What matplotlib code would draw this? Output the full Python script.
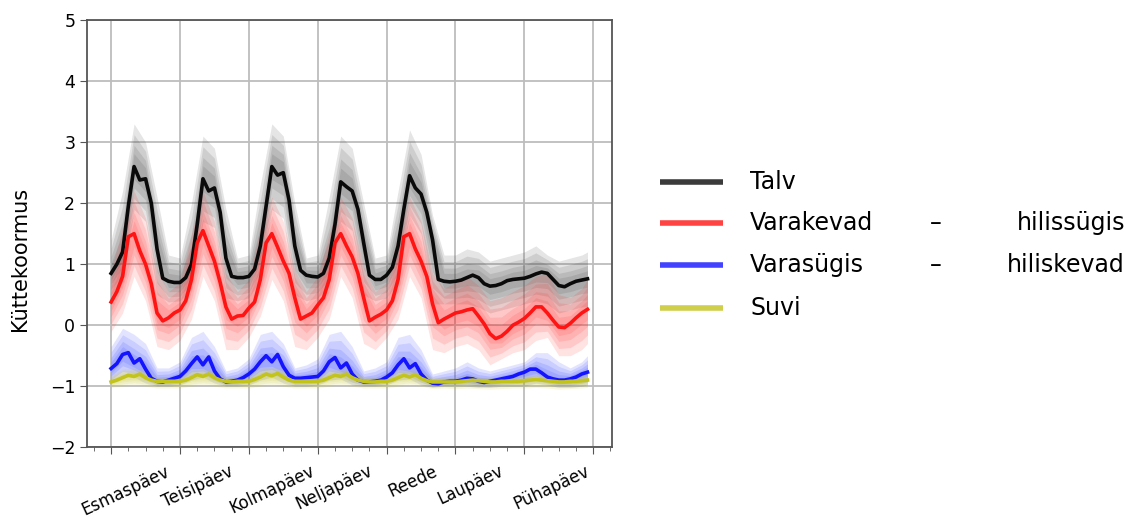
import numpy as np
import matplotlib.pyplot as plt
from matplotlib.ticker import MultipleLocator
import matplotlib.transforms as mtransforms

# hour of the week, 2 h step
hours = np.arange(0, 168, 2)
# envelope of the individual weeks, 4 h step
band_hours = np.append(np.arange(0, 168, 4), 166)

days = ['Esmaspäev', 'Teisipäev', 'Kolmapäev', 'Neljapäev', 'Reede', 'Laupäev', 'Pühapäev']
seasons = ['Talv', 'Varakevad', 'Varasügis', 'Suvi']

# mean profiles, one list per day (hours 0, 2, ..., 22)
talv = np.concatenate([
    [0.85, 1.00, 1.20, 1.95, 2.60, 2.38, 2.40, 2.00, 1.25, 0.77, 0.72, 0.70],
    [0.70, 0.78, 1.00, 1.65, 2.40, 2.20, 2.25, 1.85, 1.10, 0.80, 0.78, 0.78],
    [0.80, 0.92, 1.30, 1.95, 2.60, 2.46, 2.50, 2.05, 1.30, 0.90, 0.82, 0.80],
    [0.79, 0.85, 1.10, 1.65, 2.35, 2.27, 2.20, 1.90, 1.35, 0.82, 0.75, 0.75],
    [0.82, 0.95, 1.30, 1.90, 2.45, 2.25, 2.15, 1.85, 1.40, 0.75, 0.72, 0.71],
    [0.72, 0.74, 0.78, 0.82, 0.78, 0.68, 0.64, 0.65, 0.68, 0.73, 0.75, 0.76],
    [0.77, 0.80, 0.84, 0.87, 0.85, 0.75, 0.65, 0.63, 0.68, 0.72, 0.74, 0.76],
])
varakevad = np.concatenate([
    [0.38, 0.55, 0.80, 1.45, 1.50, 1.22, 1.00, 0.68, 0.20, 0.07, 0.12, 0.20],
    [0.25, 0.40, 0.75, 1.35, 1.55, 1.30, 1.05, 0.70, 0.30, 0.10, 0.15, 0.16],
    [0.28, 0.38, 0.75, 1.35, 1.50, 1.28, 1.05, 0.85, 0.45, 0.10, 0.15, 0.20],
    [0.33, 0.45, 0.75, 1.35, 1.50, 1.30, 1.12, 0.85, 0.45, 0.07, 0.13, 0.18],
    [0.25, 0.40, 0.75, 1.45, 1.50, 1.25, 1.05, 0.80, 0.35, 0.04, 0.10, 0.15],
    [0.20, 0.22, 0.25, 0.27, 0.15, 0.02, -0.14, -0.22, -0.18, -0.10, 0.00, 0.05],
    [0.11, 0.20, 0.30, 0.30, 0.20, 0.08, -0.03, -0.04, 0.03, 0.12, 0.20, 0.26],
])
varasygis = np.concatenate([
    [-0.71, -0.63, -0.48, -0.45, -0.62, -0.55, -0.72, -0.87, -0.92, -0.93, -0.90, -0.87],
    [-0.84, -0.75, -0.63, -0.52, -0.65, -0.52, -0.75, -0.88, -0.93, -0.92, -0.90, -0.86],
    [-0.80, -0.72, -0.60, -0.50, -0.60, -0.48, -0.68, -0.82, -0.87, -0.87, -0.86, -0.85],
    [-0.84, -0.75, -0.60, -0.53, -0.70, -0.62, -0.80, -0.90, -0.93, -0.93, -0.92, -0.90],
    [-0.85, -0.78, -0.65, -0.55, -0.70, -0.63, -0.80, -0.90, -0.95, -0.96, -0.93, -0.92],
    [-0.92, -0.90, -0.87, -0.88, -0.92, -0.94, -0.92, -0.90, -0.88, -0.86, -0.84, -0.80],
    [-0.77, -0.72, -0.72, -0.78, -0.85, -0.88, -0.90, -0.90, -0.88, -0.85, -0.80, -0.77],
])
suvi = np.concatenate([
    [-0.93, -0.90, -0.86, -0.82, -0.84, -0.80, -0.86, -0.90, -0.92, -0.92, -0.92, -0.92],
    [-0.92, -0.90, -0.86, -0.81, -0.84, -0.80, -0.86, -0.90, -0.92, -0.93, -0.92, -0.92],
    [-0.92, -0.89, -0.85, -0.80, -0.83, -0.79, -0.85, -0.90, -0.92, -0.92, -0.92, -0.92],
    [-0.92, -0.90, -0.86, -0.82, -0.84, -0.80, -0.86, -0.90, -0.92, -0.93, -0.93, -0.92],
    [-0.92, -0.90, -0.86, -0.82, -0.85, -0.81, -0.87, -0.91, -0.93, -0.93, -0.93, -0.93],
    [-0.93, -0.92, -0.91, -0.90, -0.91, -0.92, -0.93, -0.93, -0.92, -0.92, -0.92, -0.92],
    [-0.91, -0.90, -0.89, -0.90, -0.91, -0.92, -0.93, -0.93, -0.92, -0.92, -0.91, -0.90],
])

# spread of the single weeks (hours 0, 4, ..., 20; Sunday also 22)
talv_hi = np.concatenate([
    [1.40, 2.20, 3.30, 3.00, 2.10, 1.15], [1.10, 2.00, 3.10, 2.90, 1.90, 1.10],
    [1.15, 2.30, 3.30, 3.10, 2.00, 1.10], [1.15, 2.10, 3.10, 2.90, 2.00, 1.10],
    [1.15, 2.20, 3.20, 2.80, 1.80, 1.15], [1.15, 1.25, 1.20, 1.05, 1.10, 1.15],
    [1.20, 1.30, 1.15, 1.05, 1.10, 1.15, 1.20]])
talv_lo = np.concatenate([
    [0.50, 0.70, 1.90, 1.70, 0.50, 0.38], [0.40, 0.60, 1.70, 1.60, 0.45, 0.40],
    [0.45, 0.75, 1.90, 1.75, 0.50, 0.40], [0.45, 0.65, 1.70, 1.55, 0.50, 0.40],
    [0.45, 0.70, 1.80, 1.50, 0.35, 0.35], [0.35, 0.35, 0.30, 0.20, 0.25, 0.30],
    [0.35, 0.40, 0.35, 0.20, 0.25, 0.30, 0.30]])
varakevad_hi = np.concatenate([
    [0.90, 1.60, 2.20, 1.75, 0.90, 0.55], [0.70, 1.50, 2.20, 1.70, 0.85, 0.55],
    [0.75, 1.60, 2.10, 1.70, 0.90, 0.55], [0.80, 1.50, 2.10, 1.75, 0.95, 0.55],
    [0.70, 1.50, 2.10, 1.70, 0.85, 0.60], [0.70, 0.80, 0.65, 0.40, 0.45, 0.55],
    [0.65, 0.80, 0.85, 0.50, 0.45, 0.60, 0.75]])
varakevad_lo = np.concatenate([
    [-0.10, 0.20, 0.80, 0.40, -0.35, -0.40], [-0.25, 0.10, 0.80, 0.40, -0.40, -0.40],
    [-0.20, 0.15, 0.75, 0.40, -0.35, -0.40], [-0.20, 0.10, 0.80, 0.45, -0.30, -0.40],
    [-0.20, 0.10, 0.80, 0.45, -0.40, -0.45], [-0.35, -0.30, -0.40, -0.65, -0.55, -0.45],
    [-0.40, -0.25, -0.20, -0.50, -0.50, -0.40, -0.30]])
varasygis_hi = np.concatenate([
    [-0.35, -0.05, -0.15, -0.30, -0.70, -0.70], [-0.60, -0.20, -0.10, -0.35, -0.75, -0.70],
    [-0.55, -0.15, -0.10, -0.30, -0.70, -0.65], [-0.55, -0.15, -0.10, -0.35, -0.75, -0.70],
    [-0.60, -0.20, -0.15, -0.40, -0.80, -0.75], [-0.70, -0.60, -0.70, -0.75, -0.70, -0.65],
    [-0.60, -0.45, -0.45, -0.60, -0.70, -0.60, -0.50]])
varasygis_lo = np.concatenate([
    [-0.95, -0.85, -0.85, -0.95, -1.00, -1.00], [-0.98, -0.90, -0.85, -0.95, -1.00, -1.00],
    [-0.98, -0.90, -0.85, -0.95, -1.00, -1.00], [-0.98, -0.90, -0.88, -0.98, -1.00, -1.00],
    [-0.98, -0.90, -0.88, -0.98, -1.02, -1.00], [-1.00, -1.00, -1.02, -1.02, -1.00, -1.00],
    [-1.00, -0.95, -0.98, -1.02, -1.02, -1.00, -0.98]])
suvi_hi = np.concatenate([
    [-0.82, -0.72, -0.70, -0.74, -0.84, -0.84], [-0.84, -0.72, -0.70, -0.74, -0.84, -0.84],
    [-0.84, -0.70, -0.68, -0.72, -0.84, -0.84], [-0.84, -0.72, -0.70, -0.74, -0.84, -0.84],
    [-0.84, -0.72, -0.72, -0.76, -0.85, -0.85], [-0.84, -0.82, -0.84, -0.85, -0.84, -0.84],
    [-0.83, -0.80, -0.82, -0.85, -0.84, -0.83, -0.82]])
suvi_lo = np.concatenate([
    [-1.02, -1.00, -0.98, -1.00, -1.03, -1.03], [-1.03, -1.00, -0.98, -1.00, -1.03, -1.03],
    [-1.03, -1.00, -0.98, -1.00, -1.03, -1.03], [-1.03, -1.00, -0.98, -1.00, -1.03, -1.03],
    [-1.03, -1.00, -0.98, -1.00, -1.04, -1.03], [-1.04, -1.03, -1.04, -1.05, -1.04, -1.03],
    [-1.03, -1.02, -1.03, -1.05, -1.04, -1.03, -1.02]])

means = [talv, varakevad, varasygis, suvi]
bands = [(talv_lo, talv_hi), (varakevad_lo, varakevad_hi),
         (varasygis_lo, varasygis_hi), (suvi_lo, suvi_hi)]
line_colours = ['#0a0a0a', '#ff1414', '#1414ff', '#c3c31e']
band_colours = ['#383838', '#ff2020', '#2434ff', '#c8c820']

fig = plt.figure(figsize=(11.27, 5.17), dpi=100)
ax = fig.add_axes([0.0772, 0.135, 0.466, 0.826])

# spread of the weeks: stacked translucent layers, densest near the mean
for y, (lo, hi), c in zip(means, bands, band_colours):
    m = np.interp(band_hours, hours, y)
    for f in (1.0, 0.75, 0.5, 0.3):
        ax.fill_between(band_hours, m + f * (lo - m), m + f * (hi - m),
                        color=c, alpha=0.13, lw=0)

for y, c in zip(means, line_colours):
    ax.plot(hours, y, color=c, lw=2.6)

ax.set_ylim(-2, 5)
ax.set_xlim(-8.4, 174.6)
ax.set_xticks(np.arange(0, 169, 24))
ax.xaxis.set_minor_locator(MultipleLocator(6))
ax.set_xticklabels([])
ax.set_yticks(range(-2, 6))
ax.set_yticklabels([str(v).replace('-', '\u2212') for v in range(-2, 6)], fontsize=12.5)
ax.tick_params(axis='both', which='major', length=5, color='#555555')
ax.tick_params(axis='x', which='minor', length=3, color='#555555')
ax.grid(True, color='#bdbdbd', lw=1.3)
ax.set_axisbelow(True)
for sp in ax.spines.values():
    sp.set_color('#555555')
    sp.set_linewidth(1.3)

# day names under the axis
trans = mtransforms.blended_transform_factory(ax.transData, ax.transAxes)
label_x = [5.2, 30.1, 56.0, 77.7, 105.0, 125.3, 153.6]
for x, d in zip(label_x, days):
    ax.text(x, -0.035, d, transform=trans, rotation=25, ha='center', va='top',
            fontsize=12)

fig.text(0.018, 0.5, 'Küttekoormus', rotation=90, va='center', ha='center',
         fontsize=15)

# legend drawn by hand, text stretched over the full width
rows = [182, 223, 265, 308]
legend_text = [('Talv', '', ''), ('Varakevad', '\u2013', 'hilissügis'),
               ('Varasügis', '\u2013', 'hiliskevad'), ('Suvi', '', '')]
W, H = 1127.0, 517.0
for r, c, (a, b, d) in zip(rows, line_colours, legend_text):
    yf = 1 - r / H
    fig.add_artist(plt.Line2D([660 / W, 723 / W], [yf, yf], color=c, lw=4,
                              solid_capstyle='butt', alpha=0.8))
    fig.text(750 / W, yf, a, fontsize=17, va='center', ha='left')
    if b:
        fig.text(936 / W, yf, b, fontsize=17, va='center', ha='center')
    if d:
        fig.text(1125 / W, yf, d, fontsize=17, va='center', ha='right')

fig.savefig('out.png', dpi=100)
